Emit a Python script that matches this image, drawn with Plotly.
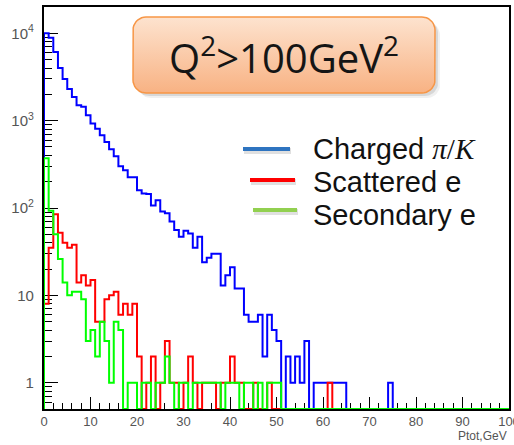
import numpy as np
import plotly.graph_objects as go

# ---------------- data (counts per 1 GeV bin, 0..100 GeV) ----------------
bin_edges = list(range(0, 101))

charged_pi_k = [10000, 8900, 6100, 4000, 3000, 2300, 1860, 1500, 1440, 1150,
                930, 810, 680, 570, 470, 390, 300, 270, 225, 225,
                160, 147, 145, 107, 123, 91, 87, 70, 56, 47,
                55, 51, 35, 47, 24, 27, 30, 30, 13, 17,
                21, 12, 12, 6, 5, 5, 6, 2, 6, 4,
                3, 0, 2, 1, 2, 1, 3, 0, 1, 1,
                1, 1, 1, 1, 1, 0, 0, 0, 0, 0,
                0, 0, 0, 0, 1, 0, 0, 0, 0, 0,
                0, 0, 0, 0, 0, 0, 0, 0, 0, 0,
                0, 0, 0, 0, 0, 0, 0, 0, 0, 0]

scattered_e = [8, 35, 85, 52, 40, 35, 38, 14, 17, 13,
               15, 5, 5, 9, 10, 11, 6, 8, 6, 8,
               2, 0, 1, 2, 0, 1, 3, 1, 1, 0,
               1, 2, 1, 0, 1, 1, 1, 0, 1, 1,
               2, 1, 1, 0, 0, 1, 0, 0, 1, 0,
               0, 0, 0, 0, 0, 0, 0, 0, 0, 0,
               0, 1, 0, 0, 0, 0, 0, 0, 0, 0,
               0, 0, 0, 0, 0, 0, 0, 0, 0, 0,
               0, 0, 0, 0, 0, 0, 0, 0, 0, 0,
               0, 0, 0, 0, 0, 0, 0, 0, 0, 0]

secondary_e = [370, 93, 50, 26, 14, 10, 11, 11, 9, 3,
               4, 2, 5, 3, 1, 5, 4, 0, 1, 1,
               0, 1, 1, 0, 1, 1, 2, 1, 0, 1,
               1, 0, 1, 1, 1, 1, 1, 1, 0, 1,
               1, 1, 0, 1, 1, 0, 1, 0, 1, 1,
               1, 0, 0, 0, 0, 0, 0, 0, 0, 0,
               0, 0, 0, 0, 0, 0, 0, 0, 0, 0,
               0, 0, 0, 0, 0, 0, 0, 0, 0, 0,
               0, 0, 0, 0, 0, 0, 0, 0, 0, 0,
               0, 0, 0, 0, 0, 0, 0, 0, 0, 0]

series_names = ["Charged π/K", "Scattered e", "Secondary e"]
hist_colors = ["#0000FF", "#FF0000", "#00FF00"]
legend_colors = ["#2E74C0", "#FF0000", "#92D050"]

Y_MIN, Y_MAX = 0.5, 2.0e4
X_MIN, X_MAX = 0, 100


def step_xy(values):
    floor = Y_MIN
    ys = [v if v > 0 else floor for v in values]
    xs = [bin_edges[0]] + bin_edges
    ys = [floor] + ys + [floor]
    return xs, ys


fig = go.Figure()
for name, vals, col in zip(series_names, [charged_pi_k, scattered_e, secondary_e], hist_colors):
    xs, ys = step_xy(vals)
    fig.add_trace(go.Scatter(x=xs, y=ys, mode="lines", line=dict(color=col, width=2, shape="hv"),
                             name=name, showlegend=False, hoverinfo="skip"))

# ---------------- decorations on a pixel-coordinate overlay ----------------
L, R, T, B = 44, 509, 7, 409


def rrect(x0, y0, x1, y1, r, n=10):
    pts = []
    for cx, cy, a0 in [(x1 - r, y0 + r, -90), (x1 - r, y1 - r, 0), (x0 + r, y1 - r, 90), (x0 + r, y0 + r, 180)]:
        for a in np.linspace(a0, a0 + 90, n):
            t = np.deg2rad(a)
            pts.append((cx + r * np.cos(t), cy + r * np.sin(t)))
    pts.append(pts[0])
    return [p[0] for p in pts], [p[1] for p in pts]


bx0, by0, bx1, by1 = 133, 17, 435, 93
for off, alpha in [(5, 0.06), (3, 0.10)]:
    sx, sy = rrect(bx0 + off, by0 + off, bx1 + off, by1 + off, 13)
    fig.add_trace(go.Scatter(x=sx, y=sy, xaxis="x2", yaxis="y2", mode="lines", fill="toself",
                             fillcolor=f"rgba(0,0,0,{alpha})", line=dict(width=0),
                             showlegend=False, hoverinfo="skip"))
bxs, bys = rrect(bx0, by0, bx1, by1, 13)
fig.add_trace(go.Scatter(x=bxs, y=bys, xaxis="x2", yaxis="y2", mode="lines", fill="toself",
                         fillgradient=dict(type="vertical", colorscale=[[0, "#FDE3CF"], [1, "#F8B283"]],
                                           start=by0, stop=by1),
                         line=dict(color="#F79646", width=1.5),
                         showlegend=False, hoverinfo="skip"))

shapes = []
annotations = []
leg_rows = [(243, 290, 149), (250, 295, 180), (253, 297, 210)]
leg_text_y = [149, 182, 215]
leg_texts = ["Charged <span style='font-family:Liberation Serif'><i>π</i>/<i>K</i></span>",
             "Scattered e", "Secondary e"]
for (lx0, lx1, ly), col in zip(leg_rows, legend_colors):
    shapes.append(dict(type="line", xref="x2", yref="y2", x0=lx0 + 1, x1=lx1 + 1, y0=ly + 2, y1=ly + 2,
                       line=dict(color="rgba(0,0,0,0.12)", width=6)))
    shapes.append(dict(type="line", xref="x2", yref="y2", x0=lx0, x1=lx1, y0=ly, y1=ly,
                       line=dict(color=col, width=4)))
for txt, ty in zip(leg_texts, leg_text_y):
    annotations.append(dict(x=311, y=ty, xref="x2", yref="y2", text=txt, showarrow=False,
                            xanchor="left", yanchor="middle",
                            font=dict(family="Liberation Sans", size=29, color="#111111")))

annotations.append(dict(x=284, y=55, xref="x2", yref="y2", text="Q<sup>2</sup>>100GeV<sup>2</sup>",
                        showarrow=False, xanchor="center", yanchor="middle",
                        font=dict(family="Open Sans", size=40, color="#151515")))
annotations.append(dict(x=1.0, y=-0.068, xref="paper", yref="paper", text="Ptot,GeV", showarrow=False,
                        xanchor="right", yanchor="middle",
                        font=dict(family="Liberation Sans", size=12, color="#555555")))

axis_common = dict(showline=True, linecolor="black", linewidth=1.5, mirror=True, showgrid=False,
                   zeroline=False, ticks="inside", tickcolor="black", tickwidth=1.2, automargin=False)

fig.update_layout(
    width=514, height=445,
    margin=dict(l=L, r=514 - R, t=T, b=445 - B, autoexpand=False),
    paper_bgcolor="white", plot_bgcolor="white",
    showlegend=False,
    xaxis=dict(range=[X_MIN, X_MAX], tick0=0, dtick=10, ticklen=12,
               minor=dict(ticks="inside", ticklen=6, dtick=2, tickcolor="black", tickwidth=1),
               tickfont=dict(family="Liberation Sans", size=13, color="#555555"),
               ticklabeloverflow="allow",
               layer="below traces", **axis_common),
    yaxis=dict(type="log", range=[np.log10(Y_MIN), np.log10(Y_MAX)], dtick=1, ticklen=14,
               exponentformat="power",
               minor=dict(ticks="inside", ticklen=8, tickcolor="black", tickwidth=1),
               tickfont=dict(family="Liberation Sans", size=12, color="#555555"),
               ticklabelstandoff=6, layer="below traces", **axis_common),
    xaxis2=dict(overlaying="x", anchor="y2", range=[L, R], visible=False, fixedrange=True),
    yaxis2=dict(overlaying="y", anchor="x2", range=[B, T], visible=False, fixedrange=True),
    shapes=shapes,
    annotations=annotations,
)

fig.write_html("out.html")
